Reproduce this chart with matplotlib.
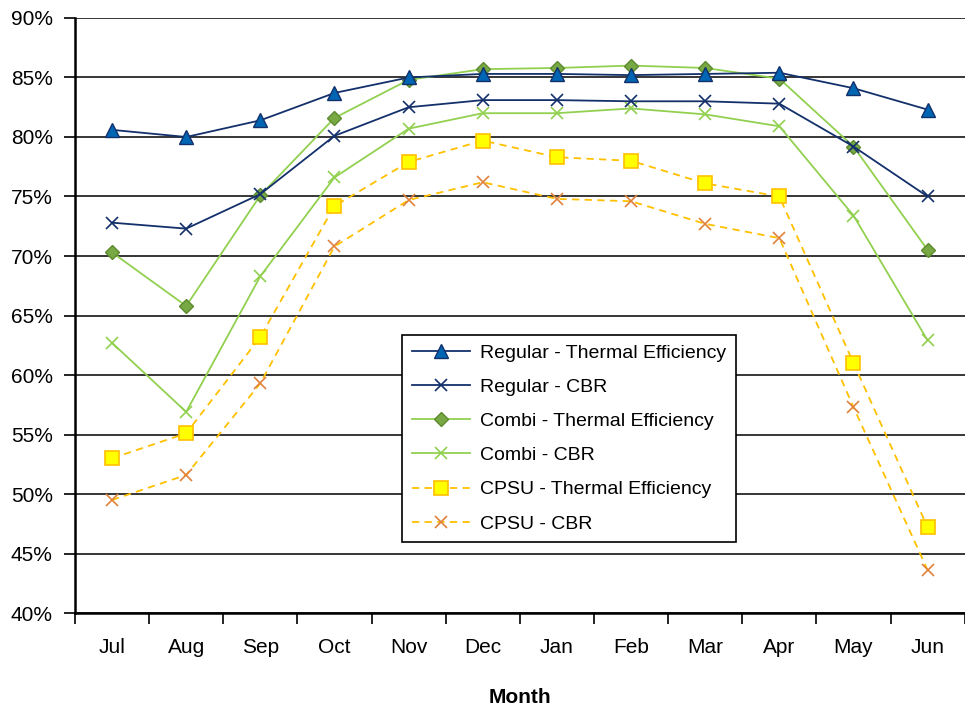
import matplotlib.pyplot as plt
from matplotlib.ticker import FuncFormatter, FixedLocator
import numpy as np

plt.rcParams['font.family'] = ['Liberation Sans', 'DejaVu Sans']

months = ["Jul", "Aug", "Sep", "Oct", "Nov", "Dec", "Jan", "Feb", "Mar", "Apr", "May", "Jun"]

regular_te = [80.6, 80.0, 81.4, 83.7, 85.0, 85.3, 85.3, 85.2, 85.3, 85.4, 84.1, 82.3]
regular_cbr = [72.8, 72.3, 75.2, 80.1, 82.5, 83.1, 83.1, 83.0, 83.0, 82.8, 79.2, 75.0]
combi_te = [70.3, 65.8, 75.1, 81.6, 84.8, 85.7, 85.8, 86.0, 85.8, 84.9, 79.2, 70.5]
combi_cbr = [62.7, 56.9, 68.3, 76.6, 80.7, 82.0, 82.0, 82.4, 81.9, 80.9, 73.4, 62.9]
cpsu_te = [53.0, 55.1, 63.2, 74.2, 77.9, 79.7, 78.3, 78.0, 76.1, 75.0, 61.0, 47.2]
cpsu_cbr = [49.5, 51.6, 59.3, 70.8, 74.7, 76.2, 74.8, 74.6, 72.7, 71.5, 57.3, 43.6]

navy = "#13306B"
green = "#92D050"
gold = "#FFC000"

fig = plt.figure(figsize=(9.65, 7.11), dpi=100)
ax = fig.add_axes([0.0777, 0.1378, 0.922, 0.8369])

x = np.arange(len(months))

ax.plot(x, regular_te, color=navy, lw=1.3, marker="^", ms=10, mfc="#0066B3", mec=navy,
        mew=1, label="Regular - Thermal Efficiency", zorder=5)
ax.plot(x, regular_cbr, color=navy, lw=1.3, marker="x", ms=9, mec=navy, mew=1.2,
        label="Regular - CBR", zorder=5)
ax.plot(x, combi_te, color=green, lw=1.3, marker="D", ms=7.5, mfc="#77A843", mec="#5E8A30",
        mew=1, label="Combi - Thermal Efficiency", zorder=4)
ax.plot(x, combi_cbr, color=green, lw=1.3, marker="x", ms=9, mec=green, mew=1.2,
        label="Combi - CBR", zorder=4)
ax.plot(x, cpsu_te, color=gold, lw=1.3, ls=(0, (4, 3)), marker="s", ms=10, mfc="#FFFF00",
        mec=gold, mew=1.2, label="CPSU - Thermal Efficiency", zorder=3)
ax.plot(x, cpsu_cbr, color=gold, lw=1.3, ls=(0, (4, 3)), marker="x", ms=9, mec="#E0823A",
        mew=1.2, label="CPSU - CBR", zorder=3)

ax.set_xlim(-0.5, len(months) - 0.5)
ax.set_ylim(40, 90)
ax.set_yticks(np.arange(40, 91, 5))
ax.yaxis.set_major_formatter(FuncFormatter(lambda v, p: f"{v:.0f}%"))
ax.yaxis.grid(True, color="black", lw=1.1)
ax.set_axisbelow(True)

ax.xaxis.set_major_locator(FixedLocator(np.arange(-0.5, len(months), 1.0)))
ax.xaxis.set_minor_locator(FixedLocator(x))
ax.set_xticklabels([])
ax.set_xticklabels(months, minor=True)
ax.tick_params(axis="x", which="major", length=8, width=1.2, color="black")
ax.tick_params(axis="x", which="minor", length=0, pad=18, labelsize=15)
ax.tick_params(axis="y", length=8, width=1.2, labelsize=15, pad=8)

for side in ("top", "right"):
    ax.spines[side].set_visible(False)
for side in ("left", "bottom"):
    ax.spines[side].set_linewidth(1.8)
    ax.spines[side].set_color("black")

ax.set_xlabel("Month", fontsize=15, fontweight="bold", labelpad=22)

leg = ax.legend(loc="upper left", bbox_to_anchor=(0.368, 0.468), fontsize=14,
                frameon=True, fancybox=False, edgecolor="black", framealpha=1,
                handlelength=3.0, labelspacing=0.85, borderpad=0.5, handletextpad=0.5,
                borderaxespad=0)
leg.get_frame().set_linewidth(1.2)

fig.savefig("out.png", dpi=100)
